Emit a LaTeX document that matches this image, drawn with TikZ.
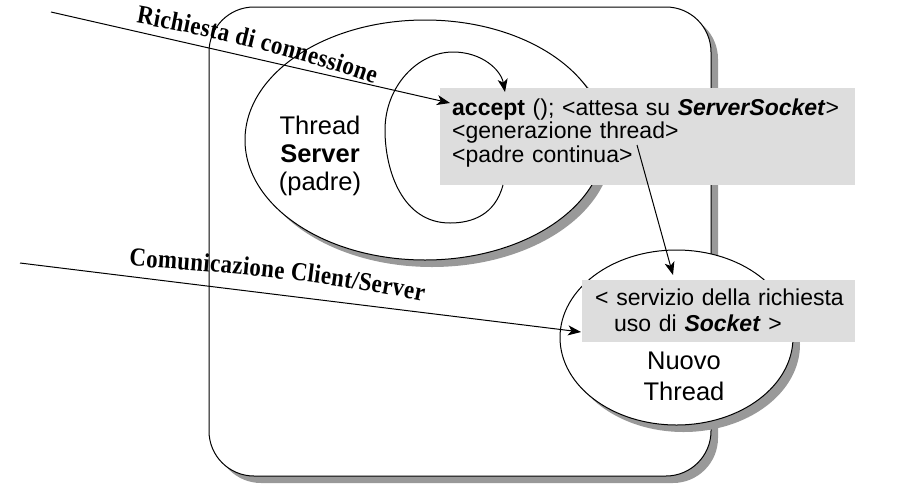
\documentclass[tikz,border=0pt]{standalone}
\usepackage{fontspec}
\setmainfont{Liberation Sans}
\newfontfamily\lblfont[FakeStretch=0.88]{Liberation Serif}
\usetikzlibrary{arrows.meta, shapes.geometric, shadows, decorations.text}
\definecolor{boxgray}{RGB}{221,221,221}
\definecolor{shadowgray}{RGB}{153,153,153}
\newcommand\lblsize{\lblfont\bfseries\fontsize{26pt}{28pt}\selectfont}

\begin{document}
\begin{tikzpicture}[
    x=1pt, y=-1pt,
    dropsh/.style={drop shadow={shadow xshift=7pt, shadow yshift=-7pt, fill=shadowgray, opacity=1}},
    frame/.style={draw, line width=1pt, fill=white, rounded corners=45pt, inner sep=0pt, dropsh},
    thrd/.style={draw, ellipse, line width=1pt, fill=white, inner sep=0pt, dropsh},
    note/.style={fill=boxgray, inner sep=0pt},
    notetxt/.style={anchor=base west, inner sep=0pt, align=left, font=\fontsize{23pt}{23.5pt}\selectfont},
    arrow/.style={-{Stealth[length=13pt, width=10pt, inset=3.5pt]}, line width=1pt},
    wordart/.style={decorate, decoration={text along path, text align=fit to path, text={|\lblsize|#1}}}
]
    \useasboundingbox (0,0) rectangle (911,483);

    % contenitore
    \node[frame, minimum width=502pt, minimum height=469pt] (frame) at (460,241.5) {};

    % thread server (padre)
    \node[thrd, minimum width=360pt, minimum height=240pt] (srv) at (425,140) {};
    \node[font=\fontsize{25.5pt}{28pt}\selectfont, align=center] (srvtxt) at (320,155.5) {Thread\\\textbf{Server}\\(padre)};
    \node[note, minimum width=415pt, minimum height=97pt] (acceptbox) at (647.5,136.5) {};
    \node[notetxt, text width=400pt] (accepttxt) at (452,115)
        {\textbf{accept} (); <attesa su \textbf{\textit{ServerSocket}}>\\<generazione thread>\\<padre continua>};
    \draw[arrow] (503,185) .. controls (495,215) and (472,223) .. (450,223)
        .. controls (402,223) and (385,170) .. (385,130)
        .. controls (385,86) and (418,52) .. (453,52)
        .. controls (482,52) and (501,70) .. (505,92);

    % nuovo thread
    \node[thrd, minimum width=233pt, minimum height=175pt] (nuovo) at (676.5,337.5) {};
    \node[font=\fontsize{25.5pt}{31pt}\selectfont, align=center] (nuovotxt) at (684,376.5) {Nuovo\\Thread};
    \node[note, minimum width=273pt, minimum height=62pt] (servbox) at (718.5,311) {};
    \node[notetxt, text width=260pt, font=\fontsize{23pt}{26pt}\selectfont] (servtxt) at (595,305)
        {< servizio della richiesta\\\hspace*{19pt}uso di \textbf{\textit{Socket}} >};

    \coordinate (reqin) at (51,12);
    \coordinate (acctip) at (450,103);
    \coordinate (clin) at (20,263);
    \coordinate (servtip) at (581,332);
    \coordinate (gen) at (637,145);
    \coordinate (gentip) at (673,275);

    \draw[arrow] (reqin) -- (acctip);
    \draw[arrow] (clin) -- (servtip);
    \draw[arrow] (gen) -- (gentip);

    \path[wordart=Richiesta di connessione] (136,23) .. controls (220,38) and (300,58) .. (374,84);
    \path[wordart=Comunicazione Client/Server] (129,266) .. controls (230,272) and (330,282) .. (423,301);
\end{tikzpicture}
\end{document}
